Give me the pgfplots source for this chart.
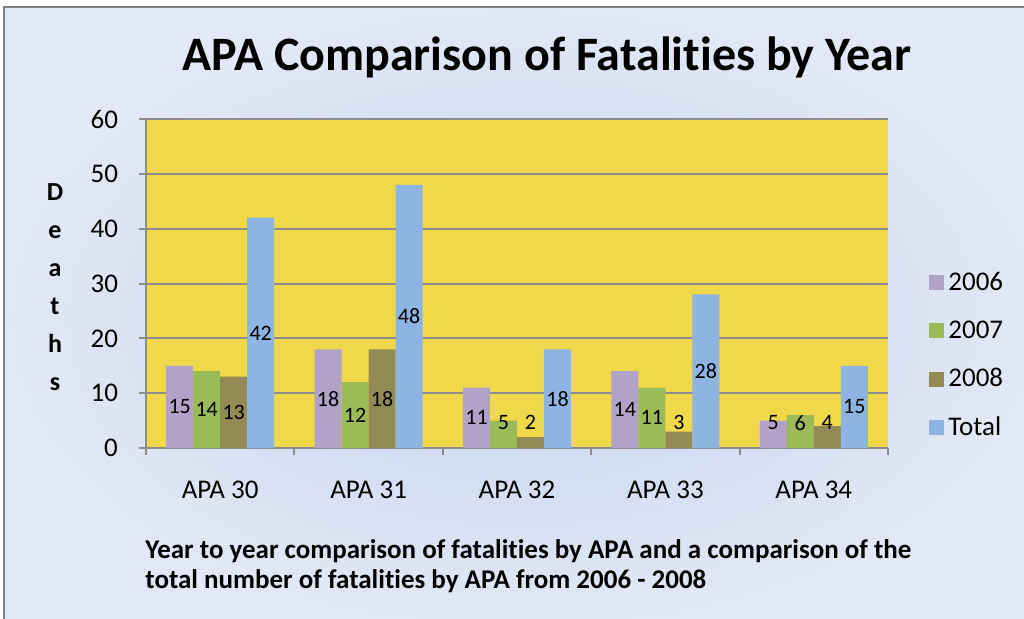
\documentclass[border=0pt]{standalone}
\usepackage{pgfplots}
\pgfplotsset{compat=1.18}
\usepackage{fontspec}
\setmainfont{Carlito}[Ligatures=NoCommon]

\definecolor{c2006}{RGB}{179,162,199}
\definecolor{c2007}{RGB}{155,187,89}
\definecolor{c2008}{RGB}{148,138,84}
\definecolor{ctotal}{RGB}{141,180,226}
\definecolor{plotyellow}{RGB}{239,217,74}
\definecolor{gridgray}{RGB}{140,140,140}
\definecolor{bginner}{RGB}{196,212,238}
\definecolor{bgouter}{RGB}{226,232,245}

\begin{document}
\begin{tikzpicture}
\useasboundingbox (0,0) rectangle (512pt,309pt);
\clip (0,0) rectangle (512pt,309pt);
% chart area background
\shade[inner color=bginner, outer color=bgouter] (2pt,-6pt) rectangle (520pt,305.5pt);
\draw[gray, line width=0.8pt] (2pt,-6pt) -- (2pt,305.5pt) -- (520pt,305.5pt);

\node[font=\fontsize{24}{28}\selectfont\bfseries] at (273.5pt,280.5pt)
  {APA Comparison of Fatalities by Year};
\node[font=\fontsize{13}{19}\selectfont\bfseries, align=center] at (27.5pt,165.5pt)
  {D\\e\\a\\t\\h\\s};
\node[font=\fontsize{13.5}{15}\selectfont\bfseries, anchor=base west, inner sep=0pt] at (72.5pt,30pt)
  {Year to year comparison of fatalities by APA and a comparison of the};
\node[font=\fontsize{13.5}{15}\selectfont\bfseries, anchor=base west, inner sep=0pt] at (72.5pt,15pt)
  {total number of fatalities by APA from 2006 - 2008};

\begin{axis}[
  at={(73pt,85pt)}, anchor=south west,
  scale only axis,
  width=371pt, height=164.5pt,
  ybar=0pt, bar width=13.5pt,
  xmin=-0.5, xmax=4.5,
  ymin=0, ymax=60,
  enlargelimits=false,
  xtick={-0.5,0.5,...,4.5},
  x tick label as interval,
  xticklabels={APA 30,APA 31,APA 32,APA 33,APA 34},
  ytick={0,10,...,60},
  axis x line*=bottom, axis y line*=left,
  axis line style={gridgray, line width=1.2pt, -},
  axis background/.style={fill=plotyellow},
  ymajorgrids=true,
  major grid style={gridgray, line width=1pt},
  tick align=outside,
  major tick length=3.5pt,
  tick style={gridgray, line width=1pt},
  tick label style={font=\fontsize{13.5}{15}\selectfont},
  /pgf/number format/assume math mode=true,
  yticklabel style={xshift=-7pt},
  xticklabel style={yshift=-9.5pt},
  nodes near coords,
  visualization depends on=rawy \as \rawy,
  every node near coord/.append style={anchor=center, font=\fontsize{11}{13}\selectfont,
    yshift={(max(\rawy/2,4.6)-\rawy)*2.74167pt}},
  legend style={at={(1,0.281)}, anchor=west, xshift=20.5pt, draw=none, fill=none,
    font=\fontsize{13.5}{15}\selectfont, row sep=9.6pt, inner sep=0pt},
  legend cell align=left,
  legend image code/.code={\fill[#1] (0pt,-3.75pt) rectangle (7.5pt,3.75pt);},
]
\addplot[fill=c2006, draw=none] coordinates {(0,15) (1,18) (2,11) (3,14) (4,5)};
\addlegendentry{2006}
\addplot[fill=c2007, draw=none] coordinates {(0,14) (1,12) (2,5) (3,11) (4,6)};
\addlegendentry{2007}
\addplot[fill=c2008, draw=none] coordinates {(0,13) (1,18) (2,2) (3,3) (4,4)};
\addlegendentry{2008}
\addplot[fill=ctotal, draw=none] coordinates {(0,42) (1,48) (2,18) (3,28) (4,15)};
\addlegendentry{Total}
\end{axis}
\end{tikzpicture}
\end{document}
